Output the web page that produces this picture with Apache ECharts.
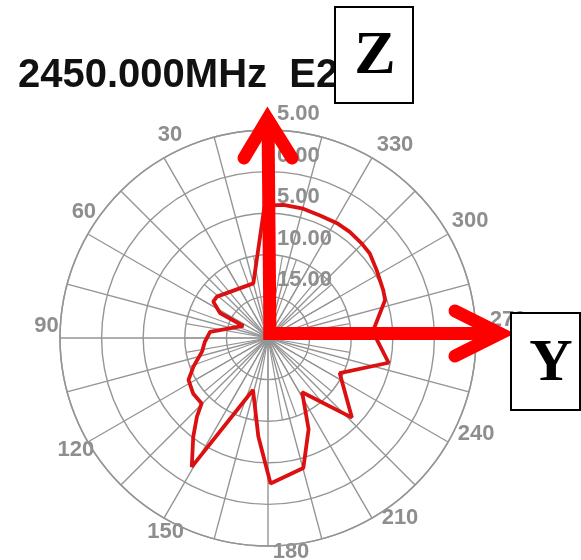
<!DOCTYPE html>
<html><head><meta charset="utf-8">
<script src="https://cdn.jsdelivr.net/npm/echarts@6/dist/echarts.min.js"></script>
<style>html,body{margin:0;padding:0;background:#fff}#c{width:581px;height:560px}</style>
</head><body><div id="c"></div>
<script>
// ---- data ----
const titleText = '2450.000MHz  E2';
const radialMin = -20, radialMax = 5, radialStep = 5;
const angleLabelValues = [30, 60, 90, 120, 150, 180, 210, 240, 270, 300, 330];
const patternAngle = [1.5, 15, 51, 56.4, 62.5, 64, 84, 93.4, 101.7, 111, 117.8, 126.5, 134.6, 137.8, 142.9, 149.4, 163.9, 174.4, 181, 195.2, 204, 212.2, 226.5, 243.9, 258.4, 269, 274.3, 288, 292.6, 302, 309.7, 315.3, 322.4, 329, 337, 344.8, 353.4];
const patternGain  = [-4.1, -13.2, -12.1, -12.1, -13.5, -16.7, -13.0, -12.4, -11.9, -10.4, -9.2, -8.8, -8.8, -7.3, -5.1, -2.0, -13.5, -8.1, -2.5, -3.8, -8.0, -12.3, -6.1, -10.4, -5.2, -6.9, -7.3, -5.2, -5.0, -4.6, -4.1, -4.0, -3.9, -3.9, -4.0, -3.9, -3.9];

// ---- layout / style ----
const cx = 268, cy = 338, R = 208;
const gridColor = '#959595';
const labelColor = '#8e8e8e';
const labelFont = {fontSize: 22, fontWeight: 'bold', fontFamily: '"Liberation Sans", Arial, sans-serif', color: labelColor};
// label centre offsets from the outer ring point (px)
const nudge = {30:[6,-23],60:[-4,-22.5],90:[-13.5,-12.5],120:[-12,8],150:[7,13.4],180:[23,5.5],
               210:[28,-0.6],240:[28,-8],270:[32,-18],300:[22,-13],330:[23,-13]};
const M = -40;
const meas = document.createElement('canvas').getContext('2d');
meas.font = 'bold 22px "Liberation Sans"';
const rich = {};
angleLabelValues.forEach(a => {
  const rad = a * Math.PI / 180;
  const ringX = cx - Math.sin(rad) * R, ringY = cy - Math.cos(rad) * R;
  const px = cx - Math.sin(rad) * (R + M), py = cy - Math.cos(rad) * (R + M);
  const tx = ringX + nudge[a][0], ty = ringY + nudge[a][1];
  const w = meas.measureText(String(a)).width, h = 22;
  const align = Math.abs(px - cx) / R < 0.3 ? 'center' : (px > cx ? 'left' : 'right');
  const valign = Math.abs(py - cy) / R < 0.3 ? 'middle' : (py > cy ? 'top' : 'bottom');
  let pl = 0, pr = 0, pt = 0, pb = 0;
  if (align === 'left') pl = tx - px - w / 2;
  else if (align === 'right') pr = px - w / 2 - tx;
  else { const s = tx - px; if (s > 0) pl = 2 * s; else pr = -2 * s; }
  if (valign === 'top') pt = ty - py - h / 2;
  else if (valign === 'bottom') pb = py - h / 2 - ty;
  else { const s = ty - py; if (s > 0) pt = 2 * s; else pb = -2 * s; }
  rich['a' + a] = Object.assign({padding: [Math.max(0, pt), Math.max(0, pr), Math.max(0, pb), Math.max(0, pl)]}, labelFont);
});

const seriesData = patternAngle.map((a, i) => [patternGain[i], a]);
seriesData.push(seriesData[0]);

const red = '#ff0000';
const chart = echarts.init(document.getElementById('c'), null, {renderer: 'canvas'});
chart.setOption({
  animation: false,
  backgroundColor: '#ffffff',
  polar: [
    {center: [cx, cy], radius: R},
    {center: [cx, cy], radius: R * 2 / 5}
  ],
  angleAxis: [
    {polarIndex: 0, type: 'value', min: 0, max: 360, interval: 15, startAngle: 90, clockwise: false,
     axisLine: {show: true, lineStyle: {color: gridColor, width: 1.5}},
     axisTick: {show: false},
     splitLine: {show: true, lineStyle: {color: gridColor, width: 1.4}},
     axisLabel: {show: true, margin: M,
       formatter: v => (v % 30 === 0 && v > 0 && v < 360) ? '{a' + v + '|' + v + '}' : '',
       rich: rich, ...labelFont}},
    {polarIndex: 1, type: 'value', min: 0, max: 360, interval: 10, startAngle: 90, clockwise: false,
     axisLine: {show: false}, axisTick: {show: false}, axisLabel: {show: false},
     splitLine: {show: true, lineStyle: {color: gridColor, width: 1.2}}}
  ],
  radiusAxis: [
    {polarIndex: 0, type: 'value', min: radialMin, max: radialMax, interval: radialStep,
     axisLine: {show: false}, axisTick: {show: false},
     splitLine: {show: true, lineStyle: {color: gridColor, width: 1.4}},
     axisLabel: {showMinLabel: false, formatter: v => Math.abs(v).toFixed(2), align: 'left', verticalAlign: 'bottom',
       margin: -9, padding: [0, 0, 5, 0], ...labelFont}},
    {polarIndex: 1, type: 'value', min: 0, max: 1, axisLine: {show: false}, axisTick: {show: false},
     axisLabel: {show: false}, splitLine: {show: false}}
  ],
  series: [{
    type: 'line', coordinateSystem: 'polar', polarIndex: 0, data: seriesData,
    symbol: 'none', smooth: false, clip: false,
    lineStyle: {color: '#dc1010', width: 3.8}
  }],
  graphic: [
    {type: 'text', z: 50, x: 18, y: 76,
     style: {text: titleText, font: 'bold 40px "Liberation Sans", Arial, sans-serif', fill: '#111111',
             textAlign: 'left', textVerticalAlign: 'middle', align: 'left', verticalAlign: 'middle'}},
    {type: 'line', z: 60, shape: {x1: 270, y1: 340, x2: 268, y2: 118}, style: {stroke: red, lineWidth: 13, lineCap: 'butt'}},
    {type: 'polyline', z: 60, shape: {points: [[244, 158], [267.5, 119], [292, 158]]},
     style: {stroke: red, lineWidth: 13, lineCap: 'round', lineJoin: 'miter', fill: null}},
    {type: 'line', z: 60, shape: {x1: 263.5, y1: 333.5, x2: 500, y2: 333.5}, style: {stroke: red, lineWidth: 13, lineCap: 'butt'}},
    {type: 'polyline', z: 60, shape: {points: [[455, 311], [500, 333.5], [455, 356]]},
     style: {stroke: red, lineWidth: 13, lineCap: 'round', lineJoin: 'miter', fill: null}},
    {type: 'rect', z: 70, shape: {x: 335, y: 7, width: 78, height: 96},
     style: {fill: '#ffffff', stroke: '#000000', lineWidth: 2}},
    {type: 'text', z: 71, x: 375, y: 57,
     style: {text: 'Z', font: 'bold 62px "Liberation Serif", "Times New Roman", serif', fill: '#000',
             textAlign: 'center', textVerticalAlign: 'middle', align: 'center', verticalAlign: 'middle'}},
    {type: 'rect', z: 70, shape: {x: 511, y: 313, width: 69, height: 97},
     style: {fill: '#ffffff', stroke: '#000000', lineWidth: 2}},
    {type: 'text', z: 71, x: 551, y: 364,
     style: {text: 'Y', font: 'bold 60px "Liberation Serif", "Times New Roman", serif', fill: '#000',
             textAlign: 'center', textVerticalAlign: 'middle', align: 'center', verticalAlign: 'middle'}}
  ]
});
</script>
</body></html>
